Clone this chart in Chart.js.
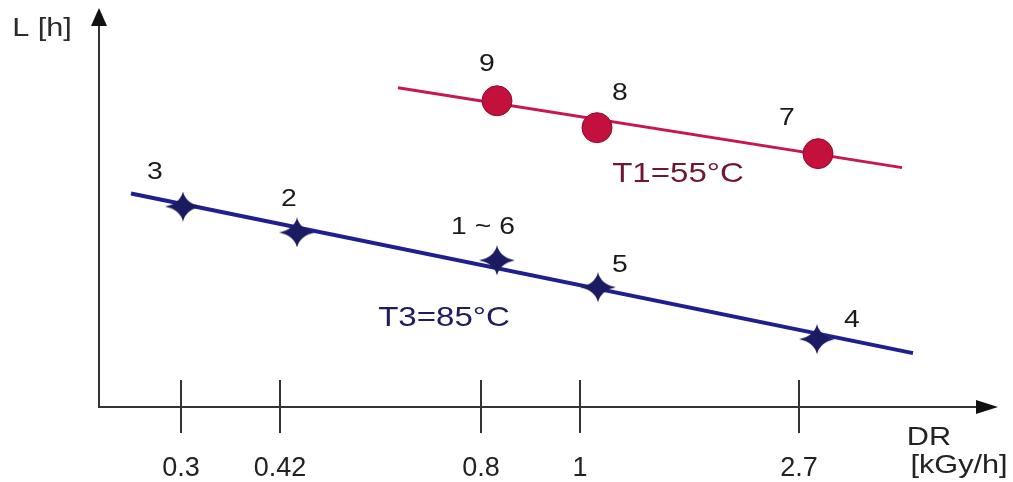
<!DOCTYPE html>
<html>
<head>
<meta charset="utf-8">
<script src="https://cdn.jsdelivr.net/npm/chart.js@4.4.1/dist/chart.umd.min.js"></script>
<style>
html, body { margin: 0; padding: 0; background: #fff; }
#wrap { width: 1013px; height: 482px; }
</style>
</head>
<body>
<div id="wrap"><canvas id="lifeChart"></canvas></div>
<script>
// schematic dose-rate axis (not to scale) - tick positions + labels
const doseRateLabels = ['0.3', '0.42', '0.8', '1', '2.7'];
const doseRatePos = [0.82, 1.81, 3.82, 4.81, 7.00];

// T3 = 85°C samples
const t3Names = ['3', '2', '1 ~ 6', '5', '4'];
const t3X = [0.84, 1.98, 3.98, 4.99, 7.18];
const t3Life = [2.01, 1.75, 1.47, 1.20, 0.68];
const t3FitX = [0.32, 8.14];
const t3FitLife = [2.14, 0.54];

// T1 = 55°C samples
const t1Names = ['9', '8', '7'];
const t1X = [3.98, 4.98, 7.19];
const t1Life = [3.07, 2.80, 2.54];
const t1FitX = [2.99, 8.03];
const t1FitLife = [3.20, 2.40];

// label offsets from each marker (px)
const t3LabelOffset = [[-28, -34], [-8, -33], [-14, -33], [22, -22], [35, -19]];
const t1LabelOffset = [[-10, -36], [23, -34], [-31, -35]];

const FONT = '"Liberation Sans", Arial, sans-serif';

const toPoints = (xs, ys) => xs.map((x, i) => ({ x: x, y: ys[i] }));

function makeStar() {
    const c = document.createElement('canvas');
    c.width = 36;
    c.height = 30;
    const g = c.getContext('2d');
    const cx = 18, cy = 15;
    g.fillStyle = '#1b1b62';
    g.beginPath();
    g.moveTo(cx, 0);
    g.quadraticCurveTo(cx + 3, cy - 3, 36, cy);
    g.quadraticCurveTo(cx + 3, cy + 3, cx, 30);
    g.quadraticCurveTo(cx - 3, cy + 3, 0, cy);
    g.quadraticCurveTo(cx - 3, cy - 3, cx, 0);
    g.fill();
    return c;
}

function stretchedText(ctx, str, cx, cy, size, color) {
    ctx.save();
    ctx.translate(cx, cy);
    ctx.scale(1.18, 1);
    ctx.font = size + 'px ' + FONT;
    ctx.fillStyle = color;
    ctx.textAlign = 'center';
    ctx.textBaseline = 'middle';
    ctx.fillText(str, 0, 0);
    ctx.restore();
}

// arrows, crossing tick marks and all annotations
const schematicAxes = {
    id: 'schematicAxes',
    afterDraw(chart) {
        const { ctx, chartArea: a, scales: { x } } = chart;
        ctx.save();
        ctx.strokeStyle = '#333';
        ctx.fillStyle = '#111';
        ctx.lineWidth = 2;
        doseRatePos.forEach(v => {
            const px = x.getPixelForValue(v);
            ctx.beginPath();
            ctx.moveTo(px, a.bottom - 27);
            ctx.lineTo(px, a.bottom + 26);
            ctx.stroke();
        });
        // y axis line up to the arrow
        ctx.beginPath();
        ctx.moveTo(a.left, a.bottom);
        ctx.lineTo(a.left, 20);
        ctx.stroke();
        // y arrow
        ctx.beginPath();
        ctx.moveTo(a.left, 8);
        ctx.lineTo(a.left - 8, 26);
        ctx.lineTo(a.left + 8, 26);
        ctx.closePath();
        ctx.fill();
        // x arrow
        ctx.beginPath();
        ctx.moveTo(998, a.bottom);
        ctx.lineTo(976, a.bottom - 7);
        ctx.lineTo(976, a.bottom + 7);
        ctx.closePath();
        ctx.fill();
        ctx.restore();

        stretchedText(ctx, 'L [h]', 42, 29, 26, '#2b2b2b');
        stretchedText(ctx, 'DR', 929, 438, 26, '#222');
        stretchedText(ctx, '[kGy/h]', 959, 466, 26, '#222');
        stretchedText(ctx, 'T1=55°C', 678, 174, 28, '#6d1730');
        stretchedText(ctx, 'T3=85°C', 444, 318, 28, '#1c1c5e');

        const t1Meta = chart.getDatasetMeta(0);
        t1Meta.data.forEach((el, i) => {
            stretchedText(ctx, t1Names[i], el.x + t1LabelOffset[i][0], el.y + t1LabelOffset[i][1], 24, '#1a1a1a');
        });
        const t3Meta = chart.getDatasetMeta(1);
        t3Meta.data.forEach((el, i) => {
            stretchedText(ctx, t3Names[i], el.x + t3LabelOffset[i][0], el.y + t3LabelOffset[i][1], 24, '#1a1a1a');
        });
    }
};

const ctx = document.getElementById('lifeChart').getContext('2d');
const lifeChart = new Chart(ctx, {
    type: 'scatter',
    data: {
        datasets: [
            {
                label: 'T1 points',
                data: toPoints(t1X, t1Life),
                pointStyle: 'circle',
                pointRadius: 15,
                backgroundColor: '#c4103d',
                borderColor: '#900a2c',
                borderWidth: 1
            },
            {
                label: 'T3 points',
                data: toPoints(t3X, t3Life),
                pointStyle: makeStar(),
                pointRadius: 15
            },
            {
                label: 'T1 fit',
                data: toPoints(t1FitX, t1FitLife),
                showLine: true,
                pointRadius: 0,
                borderColor: '#c8174f',
                borderWidth: 3
            },
            {
                label: 'T3 fit',
                data: toPoints(t3FitX, t3FitLife),
                showLine: true,
                pointRadius: 0,
                borderColor: '#1f1f90',
                borderWidth: 4
            }
        ]
    },
    options: {
        responsive: true,
        maintainAspectRatio: false,
        animation: false,
        layout: { padding: { left: 99, right: 34, top: 7, bottom: 0 } },
        plugins: {
            legend: { display: false },
            tooltip: { enabled: false }
        },
        scales: {
            x: {
                type: 'linear',
                min: 0,
                max: 8.8,
                afterBuildTicks: scale => {
                    scale.ticks = doseRatePos.map(v => ({ value: v }));
                },
                afterFit: scale => {
                    scale.height = 75;
                },
                ticks: {
                    autoSkip: false,
                    maxRotation: 0,
                    padding: 45,
                    color: '#222',
                    font: { family: FONT, size: 27 },
                    callback: value => {
                        const i = doseRatePos.indexOf(value);
                        return i >= 0 ? doseRateLabels[i] : '';
                    }
                },
                grid: { display: false, drawTicks: false },
                border: { display: true, color: '#333', width: 2 }
            },
            y: {
                min: 0,
                max: 3.92,
                ticks: { display: false },
                grid: { display: false, drawTicks: false },
                border: { display: true, color: '#333', width: 2 }
            }
        }
    },
    plugins: [schematicAxes]
});
</script>
</body>
</html>
